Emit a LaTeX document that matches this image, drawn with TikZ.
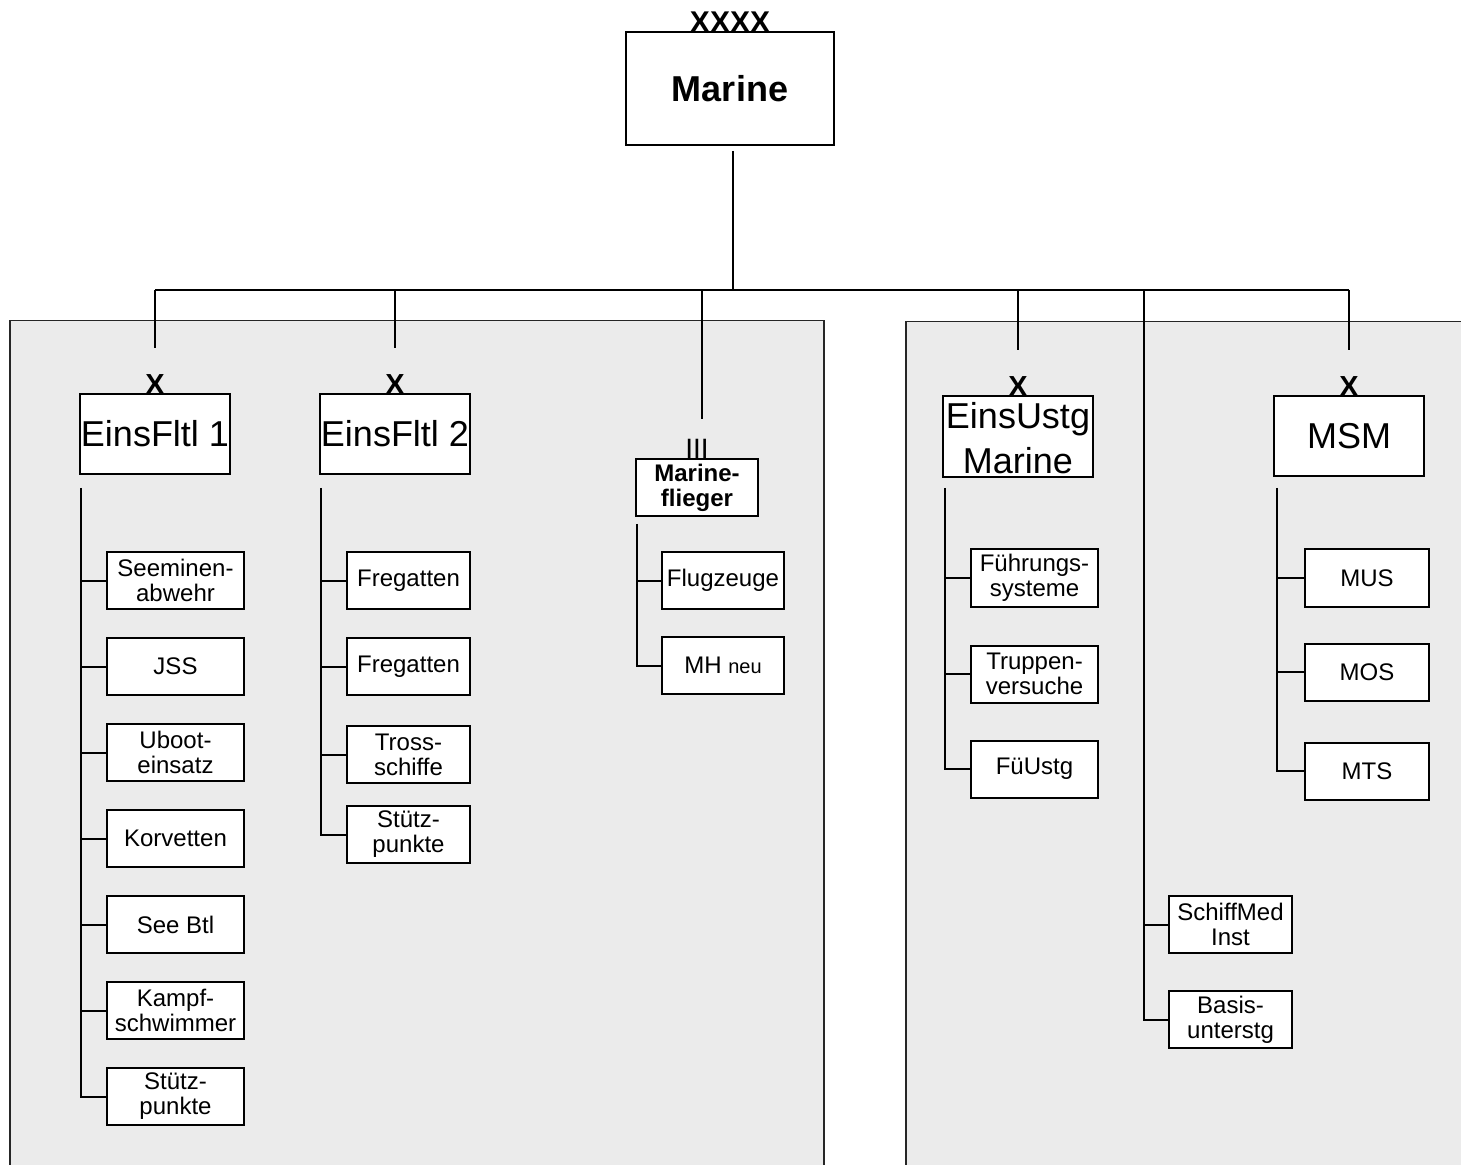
\documentclass[tikz,border=0pt]{standalone}
\usepackage{fontspec}
\setmainfont{Liberation Sans}
\usetikzlibrary{calc}
\usetikzlibrary{positioning}
\tikzstyle{panel} = [draw=black!85, fill=black!8, line width=0.9pt]
\tikzstyle{hqnode} = [draw, fill=white, line width=1pt, inner sep=0pt, align=center, minimum width=75pt, minimum height=40pt, font=\fontsize{18}{22.5}\selectfont]
\tikzstyle{unitnode} = [draw, fill=white, line width=1pt, inner sep=0pt, align=center, minimum height=28.5pt, font=\fontsize{12}{12.5}\selectfont]
\tikzstyle{echelon} = [inner sep=0pt, font=\bfseries\fontsize{14.5}{14.5}\selectfont]
\tikzstyle{link} = [line width=1pt]

\begin{document}
\begin{tikzpicture}[x=0.5pt, y=-0.5pt]
  \useasboundingbox (0,0) rectangle (1461,1165);
  \begin{scope}
    \clip (0,0) rectangle (1461,1165);
    \draw[panel] (10,320.5) rectangle (824,1180);
    \draw[panel] (906,321.5) rectangle (1480,1180);
  \end{scope}

  % command levels
  \node[hqnode, minimum width=104pt, minimum height=56.5pt, font=\bfseries\fontsize{18}{22.5}\selectfont] (marine) at (730,88.5) {Marine};
  \node[echelon, font=\bfseries\fontsize{15}{15}\selectfont, above=-1pt of marine] (x_marine) {XXXX};
  \node[hqnode] (eins1) at (155,434) {EinsFltl 1};
  \node[hqnode] (eins2) at (395,434) {EinsFltl 2};
  \node[hqnode, minimum height=40.5pt] (ustg) at (1018,436.5) {\rule{0pt}{15pt}EinsUstg\\Marine};
  \node[hqnode] (msm) at (1349,436) {MSM};
  \node[unitnode, minimum width=61pt, font=\bfseries\fontsize{12}{12.5}\selectfont] (flieger) at (697,487.5) {Marine-\\flieger};

  \node[echelon, above=-1pt of eins1] (x_eins1) {X};
  \node[echelon, above=-1pt of eins2] (x_eins2) {X};
  \node[echelon, above=-1pt of ustg] (x_ustg) {X};
  \node[echelon, above=-1pt of msm] (x_msm) {X};
  \node[inner sep=0pt, font=\fontsize{14}{14}\selectfont, above=-0.5pt of flieger] (iii) {III};

  % EinsFltl 1
  \begin{scope}[unitnode/.append style={minimum width=68.5pt}]
    \node[unitnode] (e1_minen) at (175.5,580.5) {Seeminen-\\abwehr};
    \node[unitnode, below=13.5pt of e1_minen] (e1_jss) {JSS};
    \node[unitnode, below=13.5pt of e1_jss] (e1_uboot) {Uboot-\\einsatz};
    \node[unitnode, below=13.5pt of e1_uboot] (e1_korv) {Korvetten};
    \node[unitnode, below=13.5pt of e1_korv] (e1_seebtl) {See Btl};
    \node[unitnode, below=13.5pt of e1_seebtl] (e1_kampf) {Kampf-\\schwimmer};
    \node[unitnode, below=13.5pt of e1_kampf] (e1_stuetz) {Stütz-\\punkte};
  \end{scope}

  % EinsFltl 2
  \begin{scope}[unitnode/.append style={minimum width=61.5pt}]
    \node[unitnode] (e2_freg1) at (408.5,580.5) {Fregatten};
    \node[unitnode, below=13.5pt of e2_freg1] (e2_freg2) {Fregatten};
    \node[unitnode, below=14.5pt of e2_freg2] (e2_tross) {Tross-\\schiffe};
    \node[unitnode, below=10.5pt of e2_tross] (e2_stuetz) {Stütz-\\punkte};
  \end{scope}

  % Marineflieger
  \begin{scope}[unitnode/.append style={minimum width=61pt}]
    \node[unitnode] (fl_flug) at (723,580.5) {Flugzeuge};
    \node[unitnode, below=13pt of fl_flug] (fl_mh) {MH {\fontsize{10}{10}\selectfont neu}};
  \end{scope}

  % EinsUstg Marine
  \begin{scope}[unitnode/.append style={minimum width=63.5pt}]
    \node[unitnode] (us_fue) at (1034.5,578) {Führungs-\\systeme};
    \node[unitnode, below=18.5pt of us_fue] (us_trup) {Truppen-\\versuche};
    \node[unitnode, below=18pt of us_trup] (us_fueustg) {FüUstg};
  \end{scope}

  % MSM
  \begin{scope}[unitnode/.append style={minimum width=62pt}]
    \node[unitnode] (msm_mus) at (1367,578) {MUS};
    \node[unitnode, below=17.5pt of msm_mus] (msm_mos) {MOS};
    \node[unitnode, below=20pt of msm_mos] (msm_mts) {MTS};
    \node[unitnode, minimum width=61.5pt] (med_schiff) at (1230.5,924.5) {SchiffMed\\Inst};
    \node[unitnode, minimum width=61.5pt, below=18pt of med_schiff] (med_basis) {Basis-\\unterstg};
  \end{scope}

  % top connectors
  \coordinate (bus) at (733,290);
  \draw[link] ([xshift=1.5pt,yshift=-2.5pt]marine.south) -- (bus);
  \draw[link] (bus -| x_eins1) -- (bus -| x_msm);
  \foreach \n in {x_eins1, x_eins2, x_ustg, x_msm}
    \draw[link] (bus -| \n) -- ([yshift=13pt]\n.north);
  \draw[link] ($(bus -| iii)+(5,0)$) -- ([xshift=2.5pt,yshift=10pt]iii.north);

  % trunks
  \coordinate (t_e1) at ($(eins1.south west)+(2,13)$);
  \coordinate (t_e2) at ($(eins2.south west)+(2,13)$);
  \coordinate (t_fl) at ($(flieger.south west)+(2,7)$);
  \coordinate (t_us) at ($(ustg.south west)+(3,10)$);
  \coordinate (t_msm) at ($(msm.south west)+(4,11)$);
  \coordinate (t_med) at (1144,290);

  \draw[link] (t_e1) |- (e1_stuetz.west);
  \foreach \c in {e1_minen, e1_jss, e1_uboot, e1_korv, e1_seebtl, e1_kampf}
    \draw[link] (\c.west) -- (\c.west -| t_e1);
  \draw[link] (t_e2) |- (e2_stuetz.west);
  \foreach \c in {e2_freg1, e2_freg2, e2_tross}
    \draw[link] (\c.west) -- (\c.west -| t_e2);
  \draw[link] (t_fl) |- (fl_mh.west);
  \draw[link] (fl_flug.west) -- (fl_flug.west -| t_fl);
  \draw[link] (t_us) |- (us_fueustg.west);
  \foreach \c in {us_fue, us_trup}
    \draw[link] (\c.west) -- (\c.west -| t_us);
  \draw[link] (t_msm) |- (msm_mts.west);
  \foreach \c in {msm_mus, msm_mos}
    \draw[link] (\c.west) -- (\c.west -| t_msm);
  \draw[link] (t_med) |- (med_basis.west);
  \draw[link] (med_schiff.west) -- (med_schiff.west -| t_med);
\end{tikzpicture}
\end{document}
